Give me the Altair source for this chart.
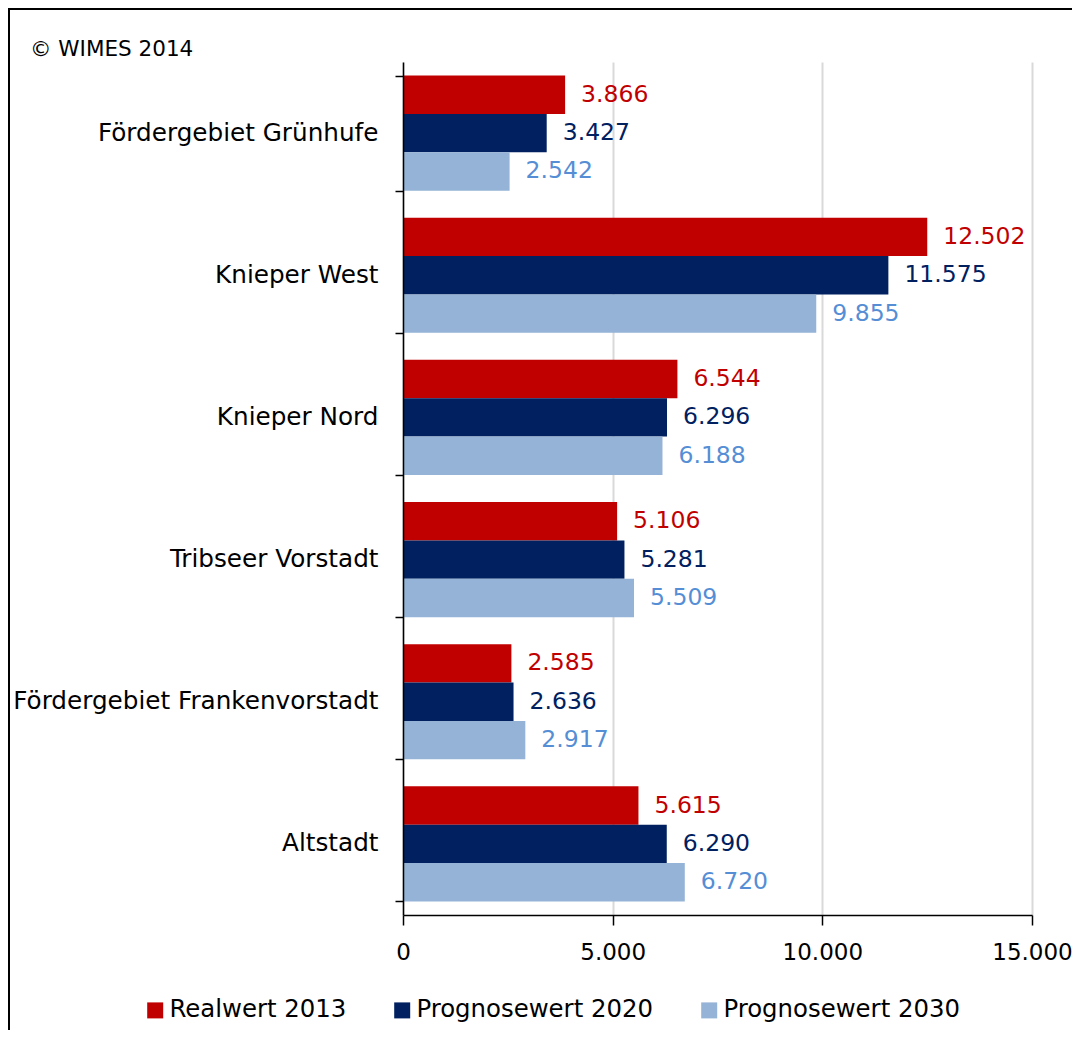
import altair as alt
import pandas as pd

categories = [
    "Fördergebiet Grünhufe",
    "Knieper West",
    "Knieper Nord",
    "Tribseer Vorstadt",
    "Fördergebiet Frankenvorstadt",
    "Altstadt",
]
series = ["Realwert 2013", "Prognosewert 2020", "Prognosewert 2030"]
real_2013 = [3866, 12502, 6544, 5106, 2585, 5615]
prog_2020 = [3427, 11575, 6296, 5281, 2636, 6290]
prog_2030 = [2542, 9855, 6188, 5509, 2917, 6720]
bar_colors = ["#C00000", "#002060", "#95B3D7"]
label_colors = ["#C00000", "#002060", "#558ED5"]
x_ticks = [0, 5000, 10000, 15000]
copyright_text = ["© WIMES 2014"]

rows = []
for s, vals, lc in zip(series, [real_2013, prog_2020, prog_2030], label_colors):
    for c, v in zip(categories, vals):
        rows.append({"Gebiet": c, "Serie": s, "Wert": v, "Farbe": lc})
df = pd.DataFrame(rows)

FONT = "DejaVu Sans"
de_fmt = "replace(format(datum.value, ','), ',', '.')"

base = alt.Chart(df).encode(
    y=alt.Y(
        "Gebiet:N",
        sort=categories,
        scale=alt.Scale(paddingInner=0.19, paddingOuter=0.095),
        axis=alt.Axis(
            title=None,
            tickBand="extent",
            tickSize=8,
            tickColor="black",
            tickWidth=1.5,
            domainColor="black",
            domainWidth=1.5,
            labelFont=FONT,
            labelFontSize=24.7,
            labelColor="black",
            labelPadding=17,
            labelLimit=500,
            zindex=1,
        ),
    ),
    yOffset=alt.YOffset("Serie:N", sort=series, scale=alt.Scale(paddingInner=0, paddingOuter=0)),
    x=alt.X(
        "Wert:Q",
        scale=alt.Scale(domain=[0, 15000], nice=False),
        axis=alt.Axis(
            title=None,
            values=x_ticks,
            labelExpr=de_fmt,
            labelFlush=False,
            labelOverlap=False,
            grid=True,
            gridColor="#D9D9D9",
            gridWidth=2,
            domainColor="black",
            domainWidth=1.5,
            tickColor="black",
            tickWidth=1.5,
            tickSize=10,
            labelFont=FONT,
            labelFontSize=23,
            labelColor="black",
            labelPadding=16,
        ),
    ),
)

bars = base.mark_bar().encode(
    color=alt.Color(
        "Serie:N",
        sort=series,
        scale=alt.Scale(domain=series, range=bar_colors),
        legend=alt.Legend(
            title=None,
            orient="none",
            legendX=-260,
            legendY=936,
            direction="horizontal",
            symbolType="square",
            symbolSize=256,
            symbolStrokeWidth=0,
            labelFont=FONT,
            labelFontSize=24.4,
            labelColor="black",
            labelOffset=2,
            columnPadding=43,
            labelLimit=400,
        ),
    )
)

labels = base.transform_calculate(
    label="replace(format(datum.Wert, ','), ',', '.')"
).mark_text(
    align="left", baseline="middle", dx=16, font=FONT, fontSize=23.5
).encode(
    text="label:N",
    fill=alt.Fill("Farbe:N", scale=None),
)

frame = alt.Chart(alt.Data(values=[{}])).mark_rect(
    fill="transparent", stroke="black", strokeWidth=2
).encode(
    x=alt.value(-394), x2=alt.value(720), y=alt.value(-53), y2=alt.value(1100)
)

note = alt.Chart(pd.DataFrame({"t": copyright_text})).mark_text(
    align="left", baseline="alphabetic", font=FONT, fontSize=21.5, color="black"
).encode(
    text="t:N", x=alt.value(-373), y=alt.value(-6)
)

chart = (
    alt.layer(bars, labels, frame, note)
    .properties(
        width=629,
        height=853,
        autosize=alt.AutoSizeParams(type="none"),
        padding={"left": 395, "top": 54, "right": 40, "bottom": 115},
    )
    .configure_view(stroke=None)
)

chart.save("out.html", embed_options={"renderer": "svg", "actions": False})
